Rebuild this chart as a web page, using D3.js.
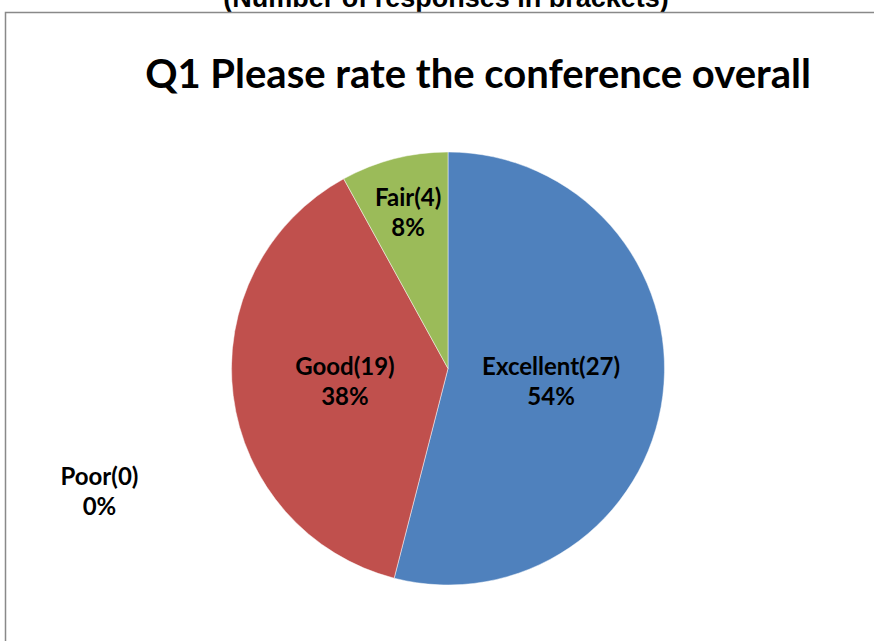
<!DOCTYPE html>
<html lang="en">
<head>
    <meta charset="UTF-8">
    <title>Q1 Please rate the conference overall</title>
    <script src="https://d3js.org/d3.v7.min.js"></script>
    <style>
        body, html {
            margin: 0;
            padding: 0;
            background: #ffffff;
            overflow: hidden;
        }
        text {
            font-family: Lato, "Open Sans", sans-serif;
            font-weight: bold;
            fill: #000;
        }
    </style>
</head>
<body>
<div id="chart"></div>
<script>
    // answers and response counts
    const categories = ["Excellent", "Good", "Fair", "Poor"];
    const counts = [27, 19, 4, 0];
    const colours = ["#4f81bd", "#c0504d", "#9bbb59", "#8064a2"];

    const width = 874, height = 641;
    const cx = 448, cy = 368.5, radius = 216.5;

    const svg = d3.select("#chart").append("svg")
        .attr("width", width)
        .attr("height", height);

    // heading of the sheet, cut off by the top of the window
    svg.append("text")
        .attr("x", 446)
        .attr("y", 7)
        .attr("text-anchor", "middle")
        .style("font-family", "'Liberation Sans', Arial, sans-serif")
        .style("font-size", "27px")
        .text("(Number of responses in brackets)");

    // chart frame (right and bottom edges fall outside the window)
    svg.append("rect")
        .attr("x", 5.5)
        .attr("y", 12.5)
        .attr("width", 1000)
        .attr("height", 1000)
        .attr("fill", "#fff")
        .attr("stroke", "#898989")
        .attr("stroke-width", 1.5);

    svg.append("text")
        .attr("x", 478)
        .attr("y", 88)
        .attr("text-anchor", "middle")
        .style("font-size", "40px")
        .text("Q1 Please rate the conference overall");

    const total = d3.sum(counts);
    const data = categories.map((c, i) => ({ name: c, value: counts[i], colour: colours[i] }));

    const pie = d3.pie().sort(null).value(d => d.value);
    const arcs = pie(data);

    const arc = d3.arc().innerRadius(0).outerRadius(radius);
    const g = svg.append("g").attr("transform", `translate(${cx},${cy})`);

    g.selectAll("path")
        .data(arcs.filter(d => d.value > 0))
        .enter().append("path")
        .attr("d", arc)
        .attr("fill", d => d.data.colour)
        .attr("stroke", "rgba(255,255,255,0.6)")
        .attr("stroke-width", 0.8);

    // label spot: small slices get pushed outward, empty ones sit off to the left
    function labelPos(d) {
        if (d.value === 0) return [-1.61 * radius, 0.57 * radius];
        const span = d.endAngle - d.startAngle;
        const r = span < 0.6 ? 0.74 * radius : 0.48 * radius;
        return d3.arc().innerRadius(r).outerRadius(r).centroid(d);
    }

    const fmt = d3.format(".0%");
    const label = g.selectAll("g.lab")
        .data(arcs)
        .enter().append("g")
        .attr("class", "lab")
        .attr("transform", d => `translate(${labelPos(d)})`);

    label.append("text")
        .attr("text-anchor", "middle")
        .attr("y", -7)
        .style("font-size", "24px")
        .text(d => `${d.data.name}(${d.data.value})`);

    label.append("text")
        .attr("text-anchor", "middle")
        .attr("y", 23)
        .style("font-size", "24px")
        .text(d => fmt(d.value / total));
</script>
</body>
</html>
